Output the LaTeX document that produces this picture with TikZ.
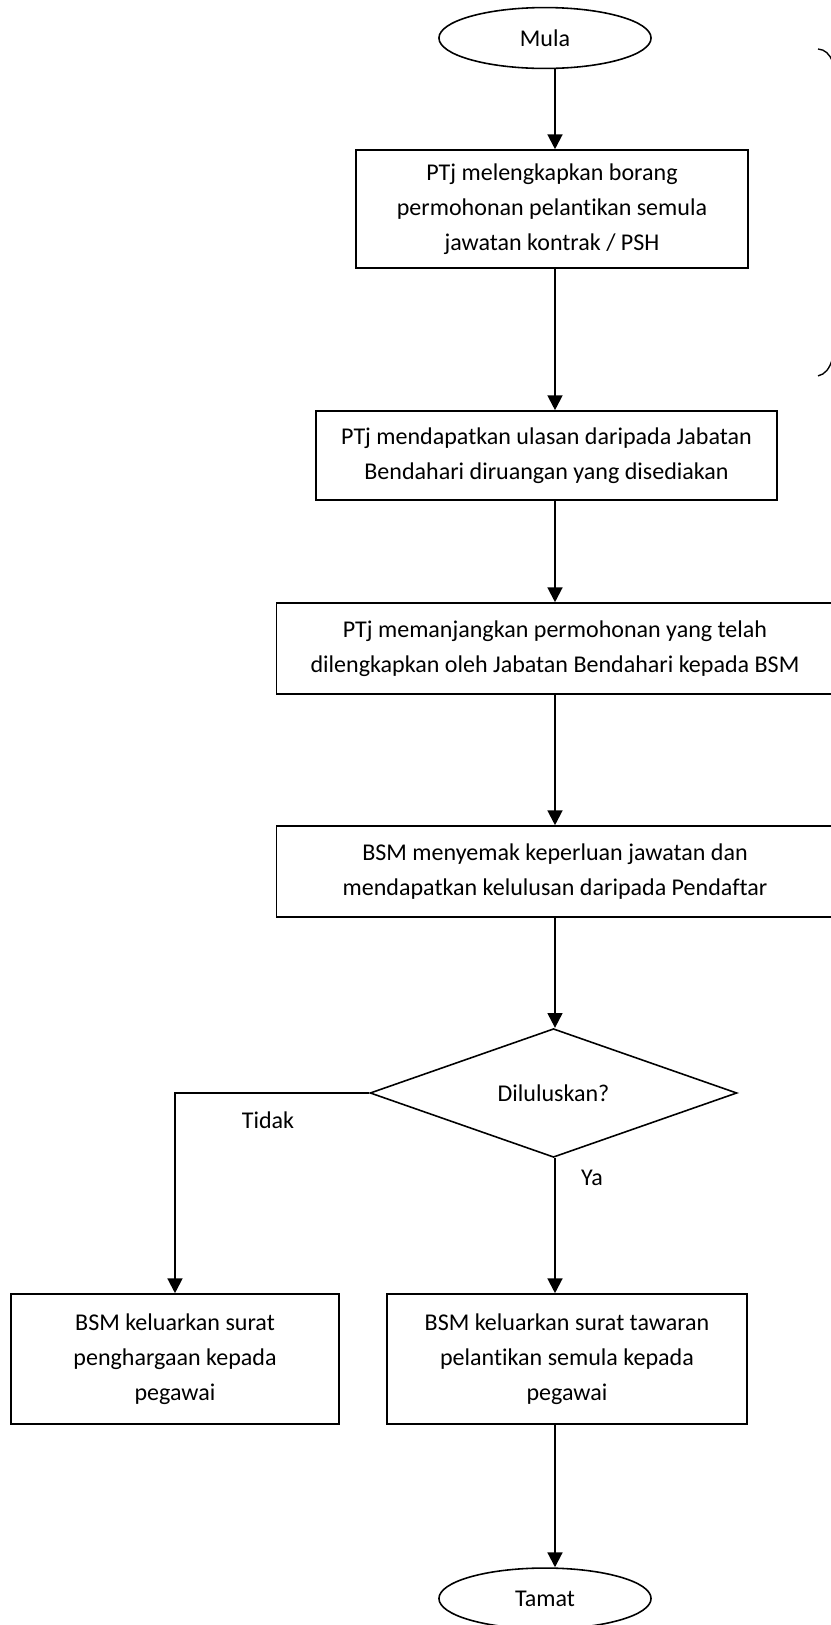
\documentclass[tikz,border=0pt]{standalone}
\usepackage{fontspec}
\setmainfont{Carlito}[Ligatures=NoCommon]
\usetikzlibrary{arrows.meta, positioning, shapes.geometric}

\begin{document}
\begin{tikzpicture}[
  font=\fontsize{22.8}{33.2}\selectfont,
  flowbox/.style={draw, line width=1.5pt, rectangle, align=center, inner sep=0pt},
  terminal/.style={draw, line width=1.5pt, ellipse, inner sep=0pt, minimum width=7.07cm, minimum height=2.03cm},
  decision/.style={draw, line width=1.5pt, diamond, inner sep=0pt, minimum width=12.23cm, minimum height=3.13cm},
  flowarrow/.style={-{Triangle[length=14pt, width=14pt]}, line width=2pt}
]

% Page
\useasboundingbox (0,0) rectangle (27.667,-54.167);
\coordinate (spine) at (18.5,0);

% --- Start ---
\node[terminal] (mula) at (18.167,-1.267) {Mula};

% --- Steps ---
\node[flowbox, minimum width=13.067cm, minimum height=3.933cm] (borang) at (18.4,-6.967)
  {PTj melengkapkan borang\\permohonan pelantikan semula\\jawatan kontrak / PSH};
\node[flowbox, minimum width=15.367cm, minimum height=2.967cm] (ulasan) at (18.217,-15.183)
  {PTj mendapatkan ulasan daripada Jabatan\\Bendahari diruangan yang disediakan};
\node[flowbox, minimum width=18.567cm, minimum height=3.033cm] (panjang) at (18.5,-21.617)
  {PTj memanjangkan permohonan yang telah\\dilengkapkan oleh Jabatan Bendahari kepada BSM};
\node[flowbox, minimum width=18.567cm, minimum height=3.033cm] (semak) at (18.5,-29.05)
  {BSM menyemak keperluan jawatan dan\\mendapatkan kelulusan daripada Pendaftar};

% --- Decision ---
\node[decision] (lulus) at (18.45,-36.433) {Diluluskan?};

% --- Outcomes ---
\node[flowbox, minimum width=10.933cm, minimum height=4.333cm] (hargai) at (5.833,-45.3)
  {BSM keluarkan surat\\penghargaan kepada\\pegawai};
\node[flowbox, minimum width=12cm, minimum height=4.333cm] (tawar) at (18.9,-45.3)
  {BSM keluarkan surat tawaran\\pelantikan semula kepada\\pegawai};

% --- End ---
\node[terminal] (tamat) at (18.167,-53.283) {Tamat};

% Connectors
\draw[flowarrow] (mula.south -| spine) -- (borang.north -| spine);
\draw[flowarrow] (borang.south -| spine) -- (ulasan.north -| spine);
\draw[flowarrow] (ulasan.south -| spine) -- (panjang.north -| spine);
\draw[flowarrow] (panjang.south -| spine) -- (semak.north -| spine);
\draw[flowarrow] (semak.south -| spine) -- (lulus.north -| spine);
\draw[flowarrow] (lulus.west) -| (hargai.north);
\draw[flowarrow] (lulus.south -| spine) -- (tawar.north -| spine);
\draw[flowarrow] (tawar.south -| spine) -- (tamat.north -| spine);

% Labels
\node (tidak) at (8.933,-37.333) {Tidak};
\node (ya) at (19.733,-39.267) {Ya};

% Bracket at the right edge
\draw[line width=1.3pt] (27.267,-1.633) .. controls (27.5,-1.65) and (27.65,-1.8) .. (27.75,-2.05);
\draw[line width=1.3pt] (27.75,-11.95) .. controls (27.65,-12.3) and (27.5,-12.48) .. (27.267,-12.53);

\end{tikzpicture}
\end{document}
